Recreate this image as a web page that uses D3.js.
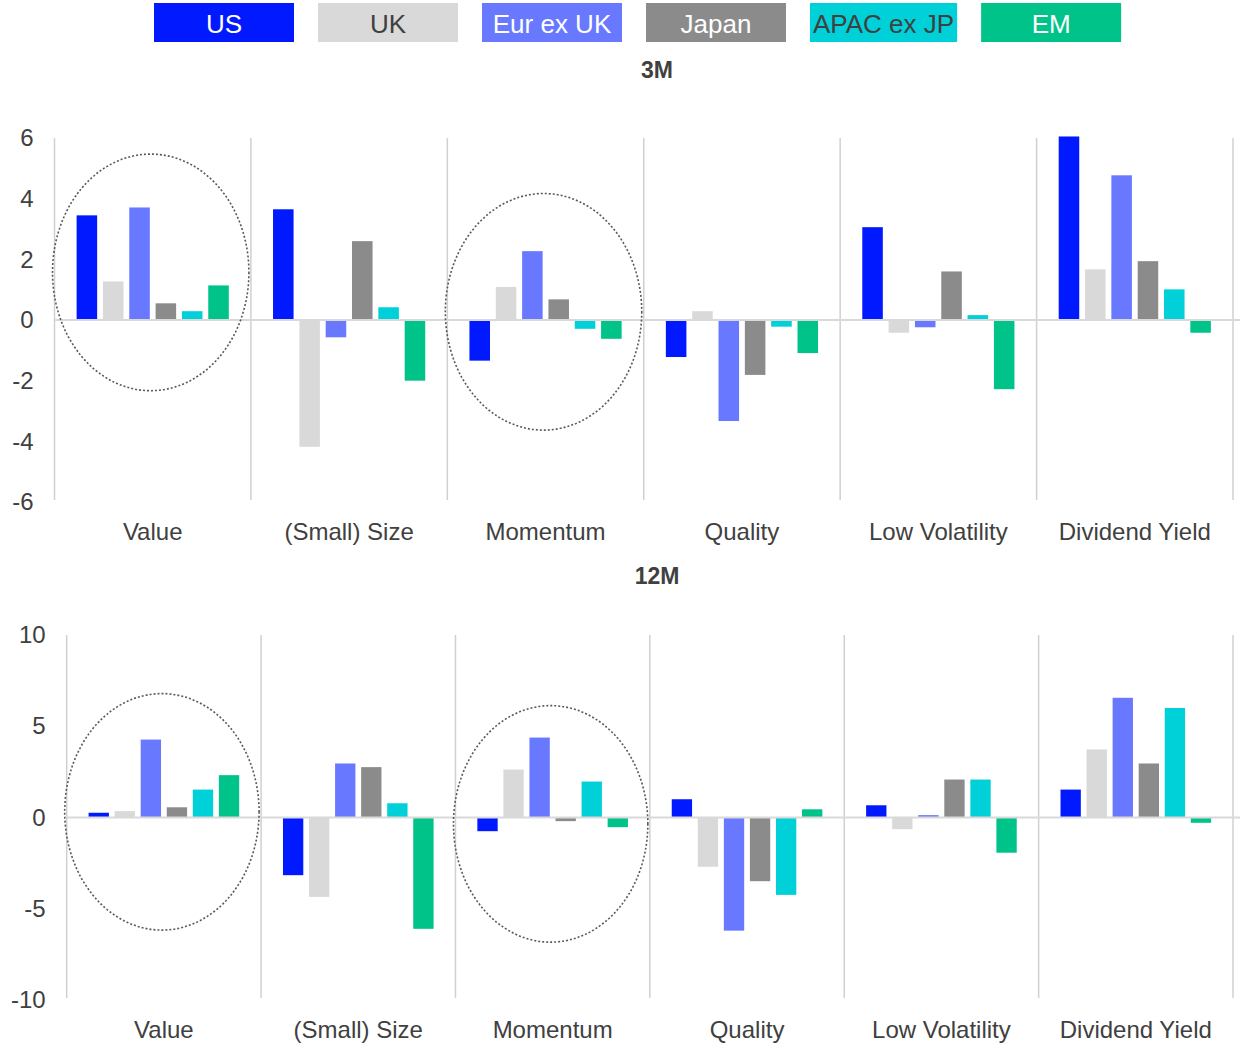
<!DOCTYPE html>
<html>
<head>
<meta charset="utf-8">
<script src="https://cdn.jsdelivr.net/npm/d3@7/dist/d3.min.js"></script>
<style>
  html, body { margin: 0; padding: 0; background: #fff; }
  svg { display: block; font-family: "Liberation Sans", Arial, sans-serif; }
</style>
</head>
<body>
<svg id="chart" width="1240" height="1046"></svg>
<script>
// ---------- data ----------
const categories = ["Value", "(Small) Size", "Momentum", "Quality", "Low Volatility", "Dividend Yield"];
const seriesNames = ["US", "UK", "Eur ex UK", "Japan", "APAC ex JP", "EM"];
const seriesColors = ["#0019FF", "#D9D9D9", "#6878FF", "#8B8B8B", "#00D0D8", "#00C389"];
const legendTextColors = ["#ffffff", "#404040", "#ffffff", "#ffffff", "#404040", "#ffffff"];

// 3M values: one array per series, in category order
const m3_US    = [3.45, 3.65, -1.34, -1.22, 3.06, 6.05];
const m3_UK    = [1.27, -4.18, 1.09, 0.29, -0.42, 1.67];
const m3_EurEx = [3.71, -0.57, 2.27, -3.33, -0.24, 4.77];
const m3_Japan = [0.55, 2.60, 0.68, -1.81, 1.60, 1.94];
const m3_APAC  = [0.29, 0.42, -0.29, -0.22, 0.16, 1.01];
const m3_EM    = [1.14, -2.00, -0.62, -1.09, -2.28, -0.42];

// 12M values
const m12_US    = [0.26, -3.16, -0.75, 1.00, 0.67, 1.53];
const m12_UK    = [0.35, -4.35, 2.63, -2.70, -0.64, 3.73];
const m12_EurEx = [4.27, 2.96, 4.38, -6.20, 0.13, 6.56];
const m12_Japan = [0.56, 2.76, -0.20, -3.49, 2.08, 2.96];
const m12_APAC  = [1.53, 0.78, 1.97, -4.24, 2.08, 6.00];
const m12_EM    = [2.32, -6.10, -0.53, 0.45, -1.93, -0.29];

const ticks3M  = [-6, -4, -2, 0, 2, 4, 6];
const ticks12M = [-10, -5, 0, 5, 10];

// highlighted groups (dotted ellipses): category, centre value, vertical radius in data units
const circled3M  = [{cat: "Value", cy: 1.57, ry: 3.9}, {cat: "Momentum", cy: 0.27, ry: 3.9}];
const circled12M = [{cat: "Value", cy: 0.31, ry: 6.48}, {cat: "Momentum", cy: -0.35, ry: 6.48}];

const panels = [
  {title: "3M", series: [m3_US, m3_UK, m3_EurEx, m3_Japan, m3_APAC, m3_EM], ticks: ticks3M,
   domain: [-6, 6], left: 54.5, right: 1233, top: 138, bottom: 502, titleY: 70, catY: 531, circled: circled3M},
  {title: "12M", series: [m12_US, m12_UK, m12_EurEx, m12_Japan, m12_APAC, m12_EM], ticks: ticks12M,
   domain: [-10, 10], left: 66.7, right: 1233, top: 635, bottom: 1000, titleY: 576, catY: 1029, circled: circled12M}
];

const svg = d3.select("#chart");
const textColor = "#404040";

// ---------- legend ----------
const legend = svg.append("g");
let lx = 154;
seriesNames.forEach((name, i) => {
  const t = legend.append("text")
    .attr("font-size", 26)
    .attr("text-anchor", "middle")
    .attr("dominant-baseline", "central")
    .attr("fill", legendTextColors[i])
    .text(name);
  const tw = t.node().getComputedTextLength();
  const w = Math.max(140, tw + 6);
  legend.insert("rect", "text")
    .attr("x", lx).attr("y", 3).attr("width", w).attr("height", 39)
    .attr("fill", seriesColors[i]);
  t.attr("x", lx + w / 2).attr("y", 23.5);
  lx += w + 24;
});

// ---------- panels ----------
panels.forEach(p => {
  const g = svg.append("g");
  const x0 = d3.scaleBand().domain(categories).range([p.left, p.right]).paddingInner(0).paddingOuter(0);
  const x1 = d3.scaleBand().domain(seriesNames).range([0, x0.bandwidth()]).paddingInner(0.22).paddingOuter(0.84);
  const y = d3.scaleLinear().domain(p.domain).range([p.bottom, p.top]);

  // title
  g.append("text")
    .attr("x", 657).attr("y", p.titleY)
    .attr("text-anchor", "middle").attr("dominant-baseline", "central")
    .attr("font-size", 23).attr("font-weight", "bold").attr("fill", textColor)
    .text(p.title);

  // category separators
  const bounds = categories.map(c => x0(c)).concat([p.right]);
  g.selectAll("line.sep").data(bounds).join("line")
    .attr("x1", d => d).attr("x2", d => d)
    .attr("y1", p.top).attr("y2", p.bottom - 2)
    .attr("stroke", "#D0D0D0").attr("stroke-width", 1.5);

  // y tick labels (plain hyphen-minus as in the reference)
  const yAxis = d3.axisLeft(y).tickValues(p.ticks).tickSize(0).tickPadding(0).tickFormat(d => String(d));
  const ax = g.append("g").attr("transform", `translate(${p.left - 21},0)`).call(yAxis);
  ax.select(".domain").remove();
  ax.selectAll("text").attr("font-size", 24).attr("fill", textColor)
    .attr("font-family", '"Liberation Sans", Arial, sans-serif');

  // bars
  p.series.forEach((vals, si) => {
    g.selectAll(null).data(vals.map((v, ci) => ({v, c: categories[ci]}))).join("rect")
      .attr("x", d => x0(d.c) + x1(seriesNames[si]))
      .attr("width", x1.bandwidth())
      .attr("y", d => y(Math.max(0, d.v)))
      .attr("height", d => Math.abs(y(d.v) - y(0)))
      .attr("fill", seriesColors[si]);
  });

  // zero line
  g.append("line")
    .attr("x1", p.left).attr("x2", p.right + 8)
    .attr("y1", y(0)).attr("y2", y(0))
    .attr("stroke", "#D9D9D9").attr("stroke-width", 2);

  // category labels
  g.selectAll("text.cat").data(categories).join("text")
    .attr("x", d => x0(d) + x0.bandwidth() / 2)
    .attr("y", p.catY)
    .attr("text-anchor", "middle").attr("dominant-baseline", "central")
    .attr("font-size", 24).attr("fill", textColor)
    .text(d => d);

  // dotted ellipses
  g.selectAll("ellipse").data(p.circled).join("ellipse")
    .attr("cx", d => x0(d.cat) + x0.bandwidth() / 2 - 2)
    .attr("cy", d => y(d.cy))
    .attr("rx", x0.bandwidth() / 2)
    .attr("ry", d => y(0) - y(d.ry))
    .attr("fill", "none")
    .attr("stroke", "#595959").attr("stroke-width", 1.6)
    .attr("stroke-dasharray", "2 2");
});
</script>
</body>
</html>
